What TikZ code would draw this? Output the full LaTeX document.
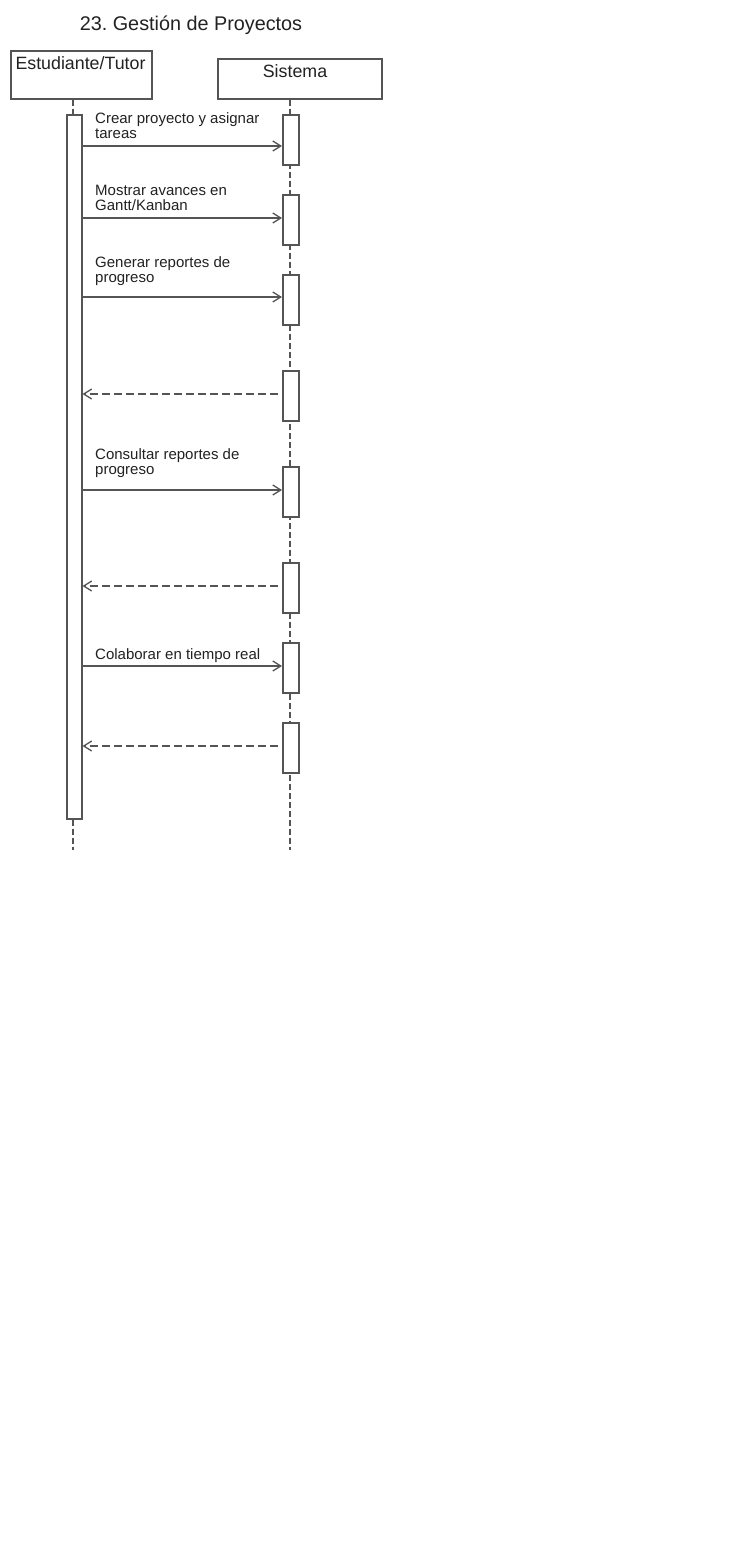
\documentclass[tikz,border=0pt]{standalone}
\usepackage{fontspec}
\setmainfont{Liberation Sans}
\usetikzlibrary{arrows.meta}
\definecolor{linec}{HTML}{555555}
\definecolor{txtc}{HTML}{222222}
\frenchspacing
\begin{document}
\begin{tikzpicture}[x=1pt,y=-1pt,
  actorbox/.style={draw=linec,line width=1.5pt,fill=white,anchor=north west,inner sep=0pt},
  actbar/.style={draw=linec,line width=1.5pt,fill=white,anchor=north west,inner sep=0pt,minimum width=16pt},
  actortext/.style={anchor=base,inner sep=0pt,text=txtc,font=\fontsize{17.8}{20}\selectfont},
  lifeline/.style={draw=linec,line width=1.3pt,dash pattern=on 6pt off 3pt},
  msg/.style={draw=linec,line width=1.3pt,-{Straight Barb[length=8pt,width=10pt,line width=1.3pt]}},
  retmsg/.style={draw=linec,line width=1.3pt,dash pattern=on 8pt off 4pt,-{Straight Barb[length=8pt,width=10pt,line width=1.3pt]}},
  msglabel/.style={anchor=base west,inner sep=0pt,align=left,text=txtc,font=\fontsize{15}{15}\selectfont},
]
\useasboundingbox (0,0) rectangle (731,1547);
\fill[white] (0,0) rectangle (731,1547);

% title
\node[anchor=base,inner sep=0pt,text=txtc,font=\fontsize{19.8}{23}\selectfont] (title) at (191,30.5) {23. Gestión de Proyectos};

% actor boxes
\node[actorbox,minimum width=141pt,minimum height=48pt] (ebox) at (10,50) {};
\node[actortext] (etext) at (80.5,69) {Estudiante/Tutor};
\node[actorbox,minimum width=164pt,minimum height=40pt] (sbox) at (217,58) {};
\node[actortext] (stext) at (295,77) {Sistema};

% lifeline ends
\coordinate (eend) at (73,850);
\coordinate (send) at (290,850);
\draw[lifeline] (ebox.south -| eend) -- (eend);
\draw[lifeline] (sbox.south -| send) -- (send);

% activation bars
\node[actbar,minimum width=15pt,minimum height=704pt] (ea) at (66,114) {};
\foreach \i/\y in {1/114,2/194,3/274,4/370,5/466,6/562,7/642,8/722}{
  \node[actbar,minimum height=50pt] (sa\i) at (282,\y) {};
}

% message rows
\coordinate (m1) at (0,146);
\coordinate (m2) at (0,218);
\coordinate (m3) at (0,297);
\coordinate (m4) at (0,394);
\coordinate (m5) at (0,490);
\coordinate (m6) at (0,586);
\coordinate (m7) at (0,666);
\coordinate (m8) at (0,746);

\draw[msg] (ea.east |- m1) -- (sa1.west |- m1);
\draw[msg] (ea.east |- m2) -- (sa2.west |- m2);
\draw[msg] (ea.east |- m3) -- (sa3.west |- m3);
\draw[retmsg] ([xshift=-4pt]sa4.west |- m4) -- (ea.east |- m4);
\draw[msg] (ea.east |- m5) -- (sa5.west |- m5);
\draw[retmsg] ([xshift=-4pt]sa6.west |- m6) -- (ea.east |- m6);
\draw[msg] (ea.east |- m7) -- (sa7.west |- m7);
\draw[retmsg] ([xshift=-4pt]sa8.west |- m8) -- (ea.east |- m8);

% labels (anchor = baseline of last line)
\node[msglabel] (l1) at (95,138) {Crear proyecto y asignar\\tareas};
\node[msglabel] (l2) at (95,210) {Mostrar avances en\\Gantt/Kanban};
\node[msglabel] (l3) at (95,282) {Generar reportes de\\progreso};
\node[msglabel] (l5) at (95,474) {Consultar reportes de\\progreso};
\node[msglabel] (l7) at (95,659.3) {Colaborar en tiempo real};
\end{tikzpicture}
\end{document}
